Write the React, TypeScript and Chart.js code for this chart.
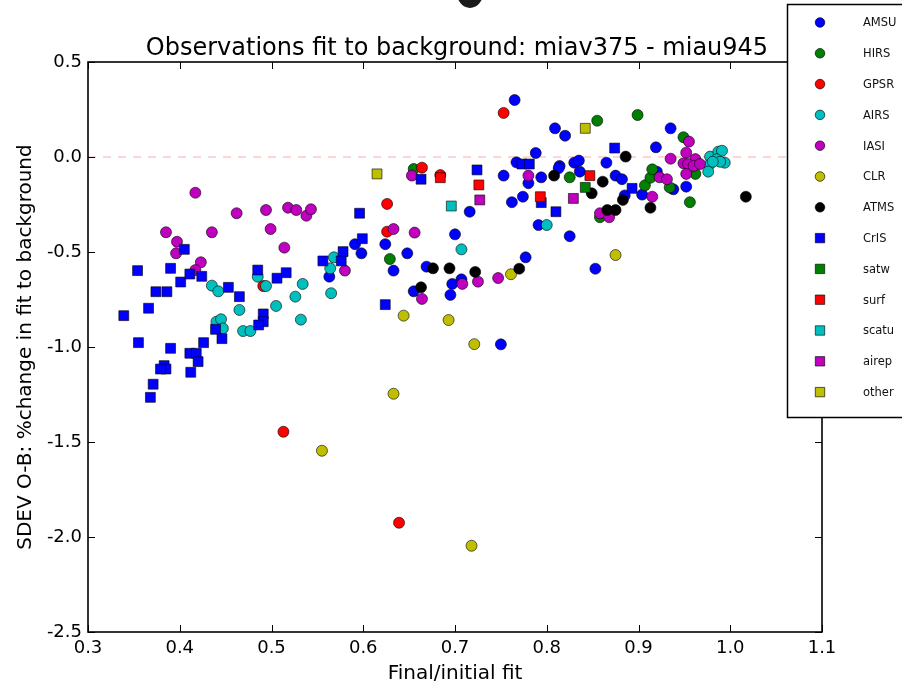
import React, { useEffect, useRef } from "react";
import { Chart, registerables } from "chart.js";

Chart.register(...registerables);

const titleText = "Observations fit to background: miav375 - miau945";
const xTitle = "Final/initial fit";
const yTitle = "SDEV O-B: %change in fit to background";

const xTicks = [0.3, 0.4, 0.5, 0.6, 0.7, 0.8, 0.9, 1.0, 1.1];
const yTicks = [0.5, 0.0, -0.5, -1.0, -1.5, -2.0, -2.5];

const seriesNames = ["AMSU", "HIRS", "GPSR", "AIRS", "IASI", "CLR", "ATMS", "CrIS", "satw", "surf", "scatu", "airep", "other"];
const seriesColors = ["#0000ff", "#008000", "#ff0000", "#00bfbf", "#bf00bf", "#bfbf00", "#000000", "#0000ff", "#008000", "#ff0000", "#00bfbf", "#bf00bf", "#bfbf00"];
const seriesShapes = ["circle", "circle", "circle", "circle", "circle", "circle", "circle", "rect", "rect", "rect", "rect", "rect", "rect"];

const amsu = [[0.716,-0.288],[0.700,-0.407],[0.591,-0.459],[0.598,-0.507],[0.563,-0.630],[0.624,-0.459],[0.633,-0.598],[0.648,-0.507],[0.669,-0.577],[0.655,-0.707],[0.697,-0.668],[0.707,-0.644],[0.695,-0.726],[0.765,0.300],[0.809,0.151],[0.820,0.112],[0.935,0.151],[0.788,0.021],[0.767,-0.028],[0.814,-0.047],[0.813,-0.059],[0.830,-0.030],[0.835,-0.019],[0.865,-0.030],[0.919,0.051],[0.753,-0.098],[0.780,-0.138],[0.794,-0.107],[0.774,-0.209],[0.762,-0.238],[0.836,-0.077],[0.875,-0.098],[0.882,-0.117],[0.904,-0.198],[0.885,-0.202],[0.791,-0.358],[0.825,-0.417],[0.853,-0.588],[0.777,-0.528],[0.750,-0.986],[0.920,-0.077],[0.938,-0.170],[0.952,-0.156]];
const hirs = [[0.655,-0.063],[0.629,-0.537],[0.855,0.191],[0.899,0.221],[0.825,-0.107],[0.858,-0.317],[0.907,-0.149],[0.913,-0.109],[0.915,-0.065],[0.949,0.104],[0.962,-0.089],[0.934,-0.160],[0.956,-0.238]];
const gpsr = [[0.491,-0.679],[0.626,-0.247],[0.626,-0.393],[0.664,-0.056],[0.684,-0.095],[0.753,0.232],[0.513,-1.446],[0.639,-1.925]];
const airs = [[0.435,-0.677],[0.442,-0.707],[0.465,-0.805],[0.440,-0.867],[0.445,-0.854],[0.447,-0.902],[0.469,-0.916],[0.477,-0.916],[0.485,-0.630],[0.494,-0.679],[0.505,-0.784],[0.568,-0.528],[0.564,-0.586],[0.534,-0.668],[0.526,-0.735],[0.532,-0.856],[0.565,-0.717],[0.707,-0.486],[0.800,-0.358],[0.978,0.002],[0.987,0.028],[0.991,0.033],[0.985,-0.012],[0.994,-0.030],[0.977,-0.042],[0.976,-0.077],[0.989,-0.025],[0.981,-0.025]];
const iasi = [[0.417,-0.188],[0.385,-0.396],[0.435,-0.396],[0.397,-0.446],[0.396,-0.507],[0.423,-0.554],[0.417,-0.595],[0.462,-0.296],[0.494,-0.279],[0.499,-0.379],[0.518,-0.267],[0.514,-0.477],[0.527,-0.279],[0.538,-0.309],[0.543,-0.275],[0.653,-0.098],[0.633,-0.379],[0.656,-0.398],[0.580,-0.598],[0.664,-0.747],[0.708,-0.668],[0.725,-0.656],[0.747,-0.637],[0.780,-0.098],[0.858,-0.296],[0.868,-0.317],[0.915,-0.209],[0.923,-0.107],[0.931,-0.117],[0.955,0.081],[0.935,-0.009],[0.952,0.023],[0.962,-0.011],[0.949,-0.033],[0.954,-0.037],[0.960,-0.047],[0.967,-0.037],[0.952,-0.089]];
const clr = [[0.644,-0.835],[0.693,-0.858],[0.721,-0.985],[0.633,-1.246],[0.555,-1.546],[0.718,-2.046],[0.761,-0.617],[0.875,-0.516]];
const atms = [[0.676,-0.586],[0.694,-0.586],[0.722,-0.605],[0.663,-0.686],[0.770,-0.588],[0.808,-0.098],[0.849,-0.191],[0.861,-0.130],[0.886,0.002],[0.883,-0.226],[0.866,-0.279],[0.875,-0.279],[0.913,-0.267],[1.017,-0.209]];
const cris = [[0.354,-0.598],[0.339,-0.835],[0.355,-0.977],[0.366,-0.796],[0.374,-0.709],[0.386,-0.709],[0.390,-0.586],[0.405,-0.486],[0.401,-0.658],[0.411,-0.616],[0.424,-0.628],[0.390,-1.007],[0.383,-1.098],[0.385,-1.116],[0.379,-1.116],[0.371,-1.196],[0.368,-1.265],[0.411,-1.033],[0.418,-1.033],[0.420,-1.077],[0.412,-1.133],[0.426,-0.977],[0.439,-0.907],[0.446,-0.956],[0.453,-0.686],[0.465,-0.735],[0.485,-0.595],[0.491,-0.826],[0.491,-0.867],[0.486,-0.884],[0.506,-0.638],[0.516,-0.609],[0.596,-0.296],[0.599,-0.430],[0.578,-0.498],[0.556,-0.547],[0.576,-0.547],[0.624,-0.777],[0.663,-0.117],[0.724,-0.068],[0.773,-0.037],[0.781,-0.037],[0.874,0.047],[0.794,-0.240],[0.810,-0.288],[0.893,-0.165]];
const satw = [[0.842,-0.160]];
const surf = [[0.684,-0.109],[0.726,-0.147],[0.793,-0.209],[0.847,-0.098]];
const scatu = [[0.696,-0.258]];
const airep = [[0.727,-0.226],[0.829,-0.218]];
const other = [[0.615,-0.089],[0.842,0.151]];

const seriesData = [amsu, hirs, gpsr, airs, iasi, clr, atms, cris, satw, surf, scatu, airep, other];

const zeroLine = [[0.3, 0], [1.1, 0]];

const FONT = "'DejaVu Sans', sans-serif";

const framePlugin = {
  id: "framePlugin",
  afterDatasetsDraw(chart: any) {
    const { ctx, chartArea } = chart;
    const { left, right, top, bottom } = chartArea;
    const xs = chart.scales.x;
    const ys = chart.scales.y;
    ctx.save();
    ctx.strokeStyle = "#000";
    ctx.lineWidth = 1;
    const tl = 7;
    ctx.beginPath();
    xTicks.forEach((v) => {
      const px = Math.round(xs.getPixelForValue(v)) + 0.5;
      ctx.moveTo(px, bottom);
      ctx.lineTo(px, bottom - tl);
      ctx.moveTo(px, top);
      ctx.lineTo(px, top + tl);
    });
    yTicks.forEach((v) => {
      const py = Math.round(ys.getPixelForValue(v)) + 0.5;
      ctx.moveTo(left, py);
      ctx.lineTo(left + tl, py);
      ctx.moveTo(right, py);
      ctx.lineTo(right - tl, py);
    });
    ctx.stroke();
    ctx.lineWidth = 1.6;
    ctx.strokeRect(left, top, right - left, bottom - top);
    // title
    ctx.fillStyle = "#000";
    ctx.font = "24px " + FONT;
    ctx.textAlign = "center";
    ctx.textBaseline = "alphabetic";
    ctx.fillText(titleText, (left + right) / 2 + 2, top - 7);
    // partially visible dark glyph cut by the top edge
    ctx.fillStyle = "#1a1a1a";
    ctx.beginPath();
    ctx.ellipse(470, -7, 13, 15, 0, 0, Math.PI * 2);
    ctx.fill();
    ctx.restore();
  },
  afterDraw(chart: any) {
    const { ctx } = chart;
    ctx.save();
    const bx = 787.5, by = 4.5, bw = 130, bh = 413;
    ctx.fillStyle = "#fff";
    ctx.fillRect(bx, by, bw, bh);
    ctx.strokeStyle = "#000";
    ctx.lineWidth = 1.5;
    ctx.strokeRect(bx, by, bw, bh);
    ctx.font = "11.5px " + FONT;
    ctx.textBaseline = "middle";
    ctx.textAlign = "left";
    seriesNames.forEach((name, i) => {
      const cy = 22.5 + i * 30.8;
      const cx = 820;
      ctx.fillStyle = seriesColors[i];
      ctx.strokeStyle = "rgba(0,0,0,0.8)";
      ctx.lineWidth = 0.8;
      ctx.beginPath();
      if (seriesShapes[i] === "circle") {
        ctx.arc(cx, cy, 4.8, 0, Math.PI * 2);
      } else {
        ctx.rect(cx - 4.7, cy - 4.7, 9.4, 9.4);
      }
      ctx.fill();
      ctx.stroke();
      ctx.fillStyle = "#111";
      ctx.fillText(name, 863, cy + 1);
    });
    ctx.restore();
  },
};

export default function App() {
  const ref = useRef<HTMLCanvasElement | null>(null);
  useEffect(() => {
    document.body.style.margin = "0";
    const canvas = ref.current;
    if (!canvas) return;
    const n = seriesNames.length;
    const datasets: any[] = seriesNames.map((name, i) => ({
      type: "scatter",
      label: name,
      data: seriesData[i].map((p) => ({ x: p[0], y: p[1] })),
      backgroundColor: seriesColors[i],
      borderColor: "rgba(0,0,0,0.75)",
      borderWidth: 0.8,
      pointStyle: seriesShapes[i],
      pointRadius: seriesShapes[i] === "circle" ? 5.5 : 7,
      order: n - i,
    }));
    datasets.push({
      type: "line",
      label: "zero",
      data: zeroLine.map((p) => ({ x: p[0], y: p[1] })),
      borderColor: "rgba(255,0,0,0.22)",
      borderWidth: 1.6,
      borderDash: [8, 7],
      pointRadius: 0,
      showLine: true,
      order: 100,
    });
    const chart = new Chart(canvas, {
      type: "scatter",
      data: { datasets },
      options: {
        animation: false,
        responsive: false,
        devicePixelRatio: 1,
        layout: { padding: { top: 62, right: 80, left: 0, bottom: 0 } },
        plugins: { legend: { display: false }, tooltip: { enabled: false }, title: { display: false } },
        scales: {
          x: {
            type: "linear",
            min: 0.3,
            max: 1.1,
            afterBuildTicks: (s: any) => { s.ticks = xTicks.map((v) => ({ value: v })); },
            afterFit: (s: any) => { s.height = 54; },
            grid: { display: false, drawTicks: false },
            border: { display: false },
            ticks: {
              color: "#000",
              font: { family: FONT, size: 18 },
              padding: 6,
              maxRotation: 0,
              callback: (v: any) => Number(v).toFixed(1),
            },
            title: { display: true, text: xTitle, color: "#000", font: { family: FONT, size: 20 }, padding: { top: 0, bottom: 0 } },
          },
          y: {
            type: "linear",
            min: -2.5,
            max: 0.5,
            afterBuildTicks: (s: any) => { s.ticks = yTicks.map((v) => ({ value: v })); },
            afterFit: (s: any) => { s.width = 88; },
            grid: { display: false, drawTicks: false },
            border: { display: false },
            ticks: {
              color: "#000",
              font: { family: FONT, size: 18 },
              padding: 6,
              callback: (v: any) => Number(v).toFixed(1),
            },
            title: { display: true, text: yTitle, color: "#000", font: { family: FONT, size: 20 }, padding: { top: 14, bottom: 0 } },
          },
        },
      },
      plugins: [framePlugin],
    });
    return () => chart.destroy();
  }, []);
  return (
    <div style={{ position: "absolute", left: 0, top: 0, width: 902, height: 686, background: "#fff" }}>
      <canvas ref={ref} width={902} height={686} style={{ display: "block" }} />
    </div>
  );
}
